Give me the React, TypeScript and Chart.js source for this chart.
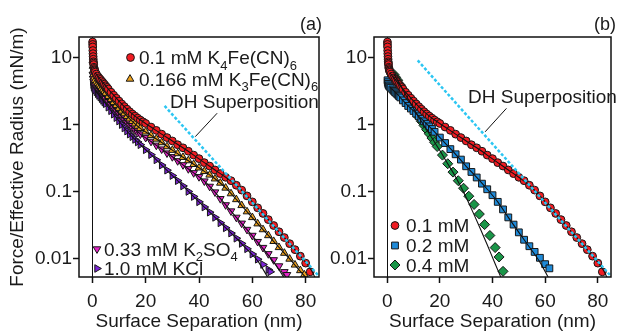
import React, { useEffect, useRef } from 'react';
import { Chart, registerables } from 'chart.js';
Chart.register(...registerables);

const FONT = '"Liberation Sans", Arial, Helvetica, sans-serif';
const TXT = '#1a1a1a';

// ---- axis / text ----
const xTicks = [0, 20, 40, 60, 80];
const yTicks = [0.01, 0.1, 1, 10];
const yTickLabels = ['0.01', '0.1', '1', '10'];
const xTitle = 'Surface Separation (nm)';
const yTitle = 'Force/Effective Radius (mN/m)';
const panelLabels = ['(a)', '(b)'];
const dhLabel = 'DH Superposition';

// ---- colours ----
const RED = '#f01c22';
const ORANGE = '#eea21f';
const MAGENTA = '#e424c8';
const PURPLE = '#7b22d6';
const BLUE = '#1f8ad8';
const GREEN = '#1a9548';
const CYAN = '#2cc6f2';

// ---- 0.1 mM K4Fe(CN)6 (both panels) ----
const redX = [0.1, 0.12, 0.15, 0.2, 0.25, 0.3, 0.35, 0.4, 0.45, 0.5, 0.6, 0.7, 0.8, 0.9, 1.1, 1.5, 2, 2.5, 3, 3.5, 4, 4.5, 5, 5.5, 6, 7, 8, 9, 10, 11, 12, 13, 14, 15, 16, 17, 18, 19, 20, 22, 24, 26, 28, 30, 32, 34, 36, 38, 40, 42, 44, 46, 48, 50, 52, 54, 56, 58, 60, 62, 64, 66, 68, 70, 72, 74, 76, 78, 80, 81.7];
const redY = [17.2, 15.8, 14.5, 12.8, 11.5, 10.4, 9.5, 8.7, 8.3, 7.9, 7.2, 6.9, 6.6, 6.35, 6.1, 5.7, 5.3, 5.0, 4.75, 4.5, 4.25, 4.02, 3.8, 3.6, 3.4, 3.05, 2.75, 2.48, 2.25, 2.04, 1.86, 1.7, 1.56, 1.44, 1.34, 1.25, 1.17, 1.1, 1.04, 0.92, 0.82, 0.72, 0.64, 0.57, 0.5, 0.45, 0.4, 0.35, 0.31, 0.27, 0.24, 0.21, 0.185, 0.163, 0.145, 0.124, 0.105, 0.086, 0.07, 0.057, 0.047, 0.038, 0.031, 0.025, 0.0205, 0.0166, 0.0135, 0.0108, 0.0085, 0.0063];
const redFitX = [1, 2, 4, 6, 8, 10, 12, 14, 16, 18, 22, 26, 30, 34, 38, 42, 46, 50, 54, 58, 62, 66, 70, 74, 78, 82, 83.5];
const redFitY = [6.0, 5.3, 4.25, 3.4, 2.75, 2.25, 1.86, 1.56, 1.34, 1.17, 0.92, 0.72, 0.57, 0.45, 0.35, 0.27, 0.21, 0.163, 0.124, 0.086, 0.057, 0.038, 0.025, 0.0166, 0.0108, 0.0068, 0.0052];

// ---- 0.166 mM K3Fe(CN)6 ----
const orangeX = [0.15, 0.25, 0.35, 0.5, 0.7, 1, 1.5, 2, 2.5, 3, 3.5, 4, 4.5, 5, 6, 7, 8, 9, 10, 11, 12, 13, 14, 15, 16, 17, 18, 20, 22, 24, 26, 28, 30, 32, 34, 36, 38, 40, 42, 44, 46, 48, 50, 52, 54, 56, 58, 60, 62, 64, 66, 68, 70, 72, 74, 76, 78, 79.5];
const orangeY = [9.0, 7.5, 6.4, 5.6, 5.0, 4.6, 4.35, 4.1, 3.9, 3.7, 3.5, 3.3, 3.12, 2.95, 2.65, 2.38, 2.15, 1.94, 1.76, 1.6, 1.46, 1.33, 1.22, 1.12, 1.03, 0.95, 0.88, 0.78, 0.69, 0.61, 0.54, 0.47, 0.415, 0.37, 0.325, 0.29, 0.255, 0.226, 0.2, 0.177, 0.155, 0.134, 0.113, 0.093, 0.076, 0.062, 0.05, 0.041, 0.033, 0.027, 0.022, 0.018, 0.0146, 0.012, 0.0098, 0.008, 0.0066, 0.0057];
const orangeFitX = [1, 2, 4, 6, 8, 10, 12, 14, 18, 22, 26, 30, 34, 38, 42, 46, 50, 54, 58, 62, 66, 70, 74, 78, 80];
const orangeFitY = [4.6, 4.1, 3.3, 2.65, 2.15, 1.76, 1.46, 1.22, 0.88, 0.69, 0.54, 0.415, 0.325, 0.255, 0.2, 0.155, 0.113, 0.076, 0.05, 0.033, 0.022, 0.0146, 0.0098, 0.0064, 0.0052];

// ---- 0.33 mM K2SO4 ----
const magX = [0.2, 0.3, 0.45, 0.7, 1, 1.5, 2, 2.5, 3, 3.5, 4, 4.5, 5, 6, 7, 8, 9, 10, 11, 12, 13, 14, 15, 16, 17, 18, 20, 22, 24, 26, 28, 30, 32, 34, 36, 38, 40, 42, 44, 46, 48, 50, 52, 54, 56, 58, 60, 62, 64, 66, 68, 70, 72, 73];
const magY = [5.6, 4.9, 4.4, 4.05, 3.85, 3.6, 3.4, 3.22, 3.05, 2.9, 2.75, 2.6, 2.45, 2.2, 1.98, 1.78, 1.6, 1.45, 1.31, 1.19, 1.08, 0.98, 0.89, 0.82, 0.76, 0.72, 0.64, 0.56, 0.49, 0.43, 0.375, 0.33, 0.287, 0.25, 0.218, 0.19, 0.166, 0.143, 0.119, 0.098, 0.078, 0.063, 0.051, 0.041, 0.0335, 0.027, 0.022, 0.0178, 0.0145, 0.0117, 0.0095, 0.0077, 0.0063, 0.0057];
const magFitX = [1, 2, 4, 6, 8, 10, 12, 14, 18, 22, 26, 30, 34, 38, 42, 46, 50, 54, 58, 62, 66, 70, 71.8];
const magFitY = [3.85, 3.4, 2.75, 2.2, 1.78, 1.45, 1.19, 0.98, 0.72, 0.56, 0.43, 0.33, 0.25, 0.19, 0.143, 0.098, 0.063, 0.041, 0.027, 0.0175, 0.0112, 0.0068, 0.0052];

// ---- 1.0 mM KCl ----
const purX = [0.2, 0.3, 0.45, 0.7, 1, 1.5, 2, 2.5, 3, 3.5, 4, 4.5, 5, 6, 7, 8, 9, 10, 11, 12, 13, 14, 15, 16, 17, 18, 20, 22, 24, 26, 28, 30, 32, 34, 36, 38, 40, 42, 44, 46, 48, 50, 52, 54, 56, 58, 60, 62, 64, 66, 66.7];
const purY = [4.4, 3.95, 3.65, 3.45, 3.3, 3.1, 2.9, 2.73, 2.58, 2.44, 2.3, 2.17, 2.05, 1.82, 1.61, 1.43, 1.27, 1.13, 1.0, 0.89, 0.8, 0.72, 0.66, 0.6, 0.55, 0.5, 0.42, 0.355, 0.297, 0.248, 0.208, 0.173, 0.145, 0.121, 0.1, 0.084, 0.07, 0.0586, 0.049, 0.041, 0.034, 0.0286, 0.0239, 0.02, 0.0167, 0.0139, 0.0116, 0.0097, 0.0081, 0.0068, 0.0063];
const purFitX = [1, 2, 4, 6, 8, 10, 12, 14, 18, 22, 26, 30, 34, 38, 42, 46, 50, 54, 58, 62, 65.8];
const purFitY = [3.3, 2.9, 2.3, 1.82, 1.43, 1.13, 0.89, 0.72, 0.5, 0.355, 0.248, 0.173, 0.121, 0.084, 0.0586, 0.041, 0.0286, 0.02, 0.0136, 0.0092, 0.0052];

// ---- 0.2 mM (panel b) ----
const blueX = [0.15, 0.25, 0.4, 0.6, 0.9, 1.3, 2, 2.5, 3, 3.5, 4, 4.5, 5, 6, 7, 8, 9, 10, 11, 12, 13, 14, 15, 16, 17, 18, 20, 22, 24, 26, 28, 30, 32, 34, 36, 38, 40, 42, 44, 46, 48, 50, 52, 54, 56, 58, 60, 61.6];
const blueY = [4.6, 4.3, 4.05, 3.85, 3.7, 3.55, 3.35, 3.2, 3.05, 2.92, 2.8, 2.67, 2.55, 2.3, 2.1, 1.9, 1.74, 1.6, 1.46, 1.33, 1.22, 1.12, 1.03, 0.94, 0.86, 0.78, 0.64, 0.53, 0.43, 0.36, 0.3, 0.238, 0.196, 0.162, 0.131, 0.108, 0.088, 0.07, 0.054, 0.041, 0.032, 0.0245, 0.019, 0.0152, 0.0125, 0.0102, 0.0082, 0.0071];
const blueFitX = [1, 2, 4, 6, 8, 10, 12, 14, 18, 22, 26, 30, 34, 38, 42, 46, 50, 54, 58, 61.2];
const blueFitY = [3.65, 3.35, 2.8, 2.3, 1.9, 1.6, 1.33, 1.12, 0.78, 0.53, 0.36, 0.238, 0.162, 0.108, 0.07, 0.041, 0.0245, 0.0148, 0.0088, 0.0052];

// ---- 0.4 mM (panel b) ----
const greenX = [2.6, 3.2, 4, 5, 6, 7, 8, 9, 10, 11, 12, 13, 14, 15, 16, 17, 18, 19, 21, 23, 25, 27, 29, 31, 33, 35, 37, 39, 41, 42.5, 44];
const greenY = [5.6, 5.1, 4.6, 3.9, 3.3, 2.8, 2.4, 2.05, 1.76, 1.5, 1.29, 1.12, 0.97, 0.84, 0.73, 0.63, 0.545, 0.47, 0.35, 0.26, 0.195, 0.145, 0.112, 0.085, 0.064, 0.046, 0.032, 0.022, 0.0145, 0.0105, 0.0064];
const greenFitX = [2.5, 4, 6, 8, 10, 12, 14, 17, 20, 23, 26, 29, 32, 35, 38, 41, 43.2];
const greenFitY = [5.7, 4.6, 3.3, 2.4, 1.76, 1.29, 0.97, 0.63, 0.41, 0.26, 0.165, 0.098, 0.055, 0.03, 0.016, 0.0083, 0.0052];

// ---- DH superposition and pointer lines ----
const dhAX = [27.1, 86];
const dhAY = [1.9, 0.0049];
const dhBX = [11.6, 86];
const dhBY = [9.1, 0.0049];
const ptrAX = [38.6, 46.8];
const ptrAY = [0.66, 1.48];
const ptrBX = [37.2, 45.3];
const ptrBY = [0.78, 1.75];

type Part = { t: string; sub?: boolean };
const legA1: Part[] = [{ t: '0.1 mM K' }, { t: '4', sub: true }, { t: 'Fe(CN)' }, { t: '6', sub: true }];
const legA2: Part[] = [{ t: '0.166 mM K' }, { t: '3', sub: true }, { t: 'Fe(CN)' }, { t: '6', sub: true }];
const legA3: Part[] = [{ t: '0.33 mM K' }, { t: '2', sub: true }, { t: 'SO' }, { t: '4', sub: true }];
const legA4: Part[] = [{ t: '1.0 mM KCl' }];
const legB1: Part[] = [{ t: '0.1 mM' }];
const legB2: Part[] = [{ t: '0.2 mM' }];
const legB3: Part[] = [{ t: '0.4 mM' }];

const pts = (xs: number[], ys: number[]) => xs.map((x, i) => ({ x, y: ys[i] }));

function lineDS(xs: number[], ys: number[], color: string, width: number, dash?: number[], smooth?: boolean) {
  return {
    data: pts(xs, ys),
    showLine: true,
    borderColor: color,
    borderWidth: width,
    borderDash: dash || [],
    pointRadius: 0,
    cubicInterpolationMode: smooth ? 'monotone' : 'default',
    fill: false,
  };
}

function markerDS(xs: number[], ys: number[], color: string, style: string, rot: number, r: number) {
  return {
    data: pts(xs, ys),
    showLine: false,
    pointStyle: style,
    pointRotation: rot,
    pointRadius: r,
    backgroundColor: color,
    pointBackgroundColor: color,
    pointBorderColor: '#161616',
    pointBorderWidth: 1,
  };
}

function drawMarker(ctx: CanvasRenderingContext2D, style: string, x: number, y: number, r: number, rot: number, fill: string) {
  ctx.save();
  ctx.translate(x, y);
  ctx.rotate((rot * Math.PI) / 180);
  ctx.beginPath();
  if (style === 'circle') {
    ctx.arc(0, 0, r, 0, Math.PI * 2);
  } else if (style === 'triangle') {
    for (let k = 0; k < 3; k++) {
      const a = (k * 2 * Math.PI) / 3;
      const px = Math.sin(a) * r;
      const py = -Math.cos(a) * r;
      if (k === 0) ctx.moveTo(px, py);
      else ctx.lineTo(px, py);
    }
    ctx.closePath();
  } else if (style === 'rect') {
    const s = r * Math.SQRT1_2;
    ctx.rect(-s, -s, 2 * s, 2 * s);
  } else if (style === 'rectRot') {
    ctx.moveTo(0, -r);
    ctx.lineTo(r, 0);
    ctx.lineTo(0, r);
    ctx.lineTo(-r, 0);
    ctx.closePath();
  }
  ctx.fillStyle = fill;
  ctx.fill();
  ctx.lineWidth = 1;
  ctx.strokeStyle = '#161616';
  ctx.stroke();
  ctx.restore();
}

function drawRich(ctx: CanvasRenderingContext2D, parts: Part[], x: number, cy: number, size: number) {
  let cx = x;
  const base = cy + size * 0.36;
  ctx.textAlign = 'left';
  ctx.textBaseline = 'alphabetic';
  ctx.fillStyle = TXT;
  for (const p of parts) {
    const fs = p.sub ? Math.round(size * 0.66) : size;
    ctx.font = `${fs}px ${FONT}`;
    ctx.fillText(p.t, cx, base + (p.sub ? size * 0.28 : 0));
    cx += ctx.measureText(p.t).width;
  }
}

type LegendItem = { style: string; rot: number; r: number; color: string; mx: number; tx: number; y: number; parts: Part[] };

type PanelDef = {
  width: number;
  yWidth: number;
  padRight: number;
  datasets: any[];
  label: string;
  labelX: number;
  dhX: number;
  dhY: number;
  legend: LegendItem[];
  showYTitle: boolean;
};

function makeConfig(p: PanelDef): any {
  const deco = {
    id: 'deco',
    afterDraw(chart: any) {
      const ctx: CanvasRenderingContext2D = chart.ctx;
      const a = chart.chartArea;
      ctx.save();
      ctx.strokeStyle = '#111';
      ctx.lineWidth = 1.5;
      ctx.strokeRect(a.left, a.top, a.right - a.left, a.bottom - a.top);
      ctx.fillStyle = TXT;
      ctx.font = `19px ${FONT}`;
      ctx.textAlign = 'center';
      ctx.textBaseline = 'middle';
      ctx.fillText(xTitle, (a.left + a.right) / 2, 322);
      if (p.showYTitle) {
        ctx.save();
        ctx.translate(18, (a.top + a.bottom) / 2);
        ctx.rotate(-Math.PI / 2);
        ctx.fillText(yTitle, 0, 0);
        ctx.restore();
      }
      ctx.textAlign = 'right';
      ctx.font = `18px ${FONT}`;
      ctx.fillText(p.label, p.labelX, 25);
      ctx.textAlign = 'left';
      ctx.font = `19px ${FONT}`;
      ctx.fillText(dhLabel, p.dhX, p.dhY);
      for (const it of p.legend) {
        drawMarker(ctx, it.style, it.mx, it.y, it.r, it.rot, it.color);
        drawRich(ctx, it.parts, it.tx, it.y, 19);
      }
      ctx.restore();
    },
  };
  return {
    type: 'scatter',
    data: { datasets: p.datasets },
    plugins: [deco],
    options: {
      responsive: false,
      animation: false,
      devicePixelRatio: 1,
      layout: { padding: { left: 0, right: p.padRight, top: 37, bottom: 0 } },
      plugins: { legend: { display: false }, tooltip: { enabled: false } },
      elements: { line: { tension: 0 } },
      scales: {
        x: {
          type: 'linear',
          min: -5,
          max: 85,
          afterBuildTicks: (s: any) => {
            s.ticks = xTicks.map((v) => ({ value: v }));
          },
          afterFit: (s: any) => {
            s.height = 58;
          },
          ticks: {
            font: { size: 19, family: FONT },
            color: TXT,
            padding: 7,
            maxRotation: 0,
            autoSkip: false,
            callback: (v: any) => String(v),
          },
          grid: {
            drawOnChartArea: true,
            color: (c: any) => (c.tick && c.tick.value === 0 ? '#111' : 'rgba(0,0,0,0)'),
            lineWidth: 1,
            tickLength: 6,
            tickColor: '#111',
            tickWidth: 1.5,
          },
          border: { display: false },
        },
        y: {
          type: 'logarithmic',
          min: 0.00527,
          max: 20.4,
          afterBuildTicks: (s: any) => {
            s.ticks = yTicks.map((v) => ({ value: v }));
          },
          afterFit: (s: any) => {
            s.width = p.yWidth;
          },
          ticks: {
            font: { size: 19, family: FONT },
            color: TXT,
            padding: 1,
            autoSkip: false,
            callback: (v: any) => {
              const i = yTicks.indexOf(Number(v));
              return i >= 0 ? yTickLabels[i] : '';
            },
          },
          grid: {
            drawOnChartArea: false,
            tickLength: 6,
            tickColor: '#111',
            tickWidth: 1.5,
          },
          border: { display: false },
        },
      },
    },
  };
}

const panelA: PanelDef = {
  width: 330,
  yWidth: 79,
  padRight: 11,
  label: panelLabels[0],
  labelX: 322,
  dhX: 170,
  dhY: 103,
  showYTitle: true,
  datasets: [
    lineDS(dhAX, dhAY, CYAN, 2.5, [3, 2]),
    lineDS(ptrAX, ptrAY, '#111', 1),
    lineDS(redFitX, redFitY, '#111', 1.1, undefined, true),
    lineDS(orangeFitX, orangeFitY, '#111', 1.1, undefined, true),
    lineDS(magFitX, magFitY, '#111', 1.1, undefined, true),
    lineDS(purFitX, purFitY, '#111', 1.1, undefined, true),
    markerDS(redX, redY, RED, 'circle', 0, 3.9),
    markerDS(orangeX, orangeY, ORANGE, 'triangle', 0, 4.4),
    markerDS(magX, magY, MAGENTA, 'triangle', 180, 4.4),
    markerDS(purX, purY, PURPLE, 'triangle', 90, 4.4),
  ],
  legend: [
    { style: 'circle', rot: 0, r: 3.9, color: RED, mx: 130.5, tx: 139, y: 57.5, parts: legA1 },
    { style: 'triangle', rot: 0, r: 4.4, color: ORANGE, mx: 130, tx: 139, y: 79, parts: legA2 },
    { style: 'triangle', rot: 180, r: 4.4, color: MAGENTA, mx: 97, tx: 104, y: 249, parts: legA3 },
    { style: 'triangle', rot: 90, r: 4.4, color: PURPLE, mx: 97, tx: 104, y: 268.5, parts: legA4 },
  ],
};

const panelB: PanelDef = {
  width: 297,
  yWidth: 54,
  padRight: 2,
  label: panelLabels[1],
  labelX: 296,
  dhX: 148,
  dhY: 97.5,
  showYTitle: false,
  datasets: [
    lineDS(dhBX, dhBY, CYAN, 2.5, [3, 2]),
    lineDS(ptrBX, ptrBY, '#111', 1),
    lineDS(redFitX, redFitY, '#111', 1.1, undefined, true),
    lineDS(blueFitX, blueFitY, '#111', 1.1, undefined, true),
    lineDS(greenFitX, greenFitY, '#111', 1.1, undefined, true),
    markerDS(redX, redY, RED, 'circle', 0, 3.9),
    markerDS(blueX, blueY, BLUE, 'rect', 0, 4.8),
    markerDS(greenX, greenY, GREEN, 'rectRot', 0, 5),
  ],
  legend: [
    { style: 'circle', rot: 0, r: 3.9, color: RED, mx: 75, tx: 86, y: 225.5, parts: legB1 },
    { style: 'rect', rot: 0, r: 4.8, color: BLUE, mx: 75, tx: 86, y: 245.5, parts: legB2 },
    { style: 'rectRot', rot: 0, r: 5, color: GREEN, mx: 75, tx: 86, y: 265, parts: legB3 },
  ],
};

export default function App() {
  const refA = useRef<HTMLCanvasElement>(null);
  const refB = useRef<HTMLCanvasElement>(null);
  useEffect(() => {
    document.body.style.margin = '0';
    const a = new Chart(refA.current as HTMLCanvasElement, makeConfig(panelA));
    const b = new Chart(refB.current as HTMLCanvasElement, makeConfig(panelB));
    return () => {
      a.destroy();
      b.destroy();
    };
  }, []);
  return (
    <div style={{ position: 'relative', width: 617, height: 335, background: '#fff', overflow: 'hidden' }}>
      <canvas ref={refA} width={panelA.width} height={335} style={{ position: 'absolute', left: 0, top: 0 }} />
      <canvas ref={refB} width={panelB.width} height={335} style={{ position: 'absolute', left: 320, top: 0 }} />
    </div>
  );
}
